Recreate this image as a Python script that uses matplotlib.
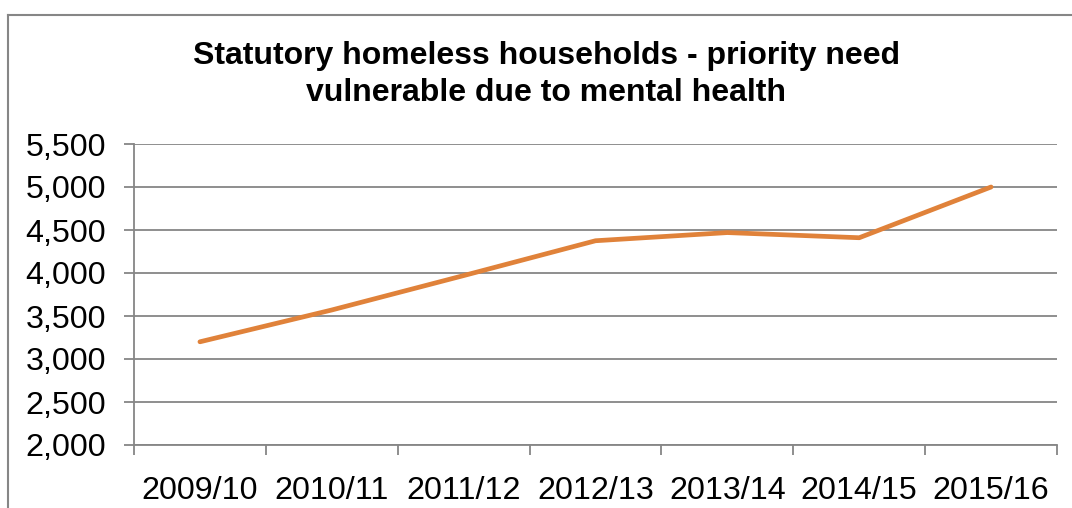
import matplotlib
matplotlib.use("Agg")
import matplotlib.pyplot as plt
from matplotlib.lines import Line2D
from matplotlib.ticker import FuncFormatter, FixedLocator

categories = ["2009/10", "2010/11", "2011/12", "2012/13", "2013/14", "2014/15", "2015/16"]
values = [3200, 3570, 3970, 4375, 4470, 4410, 5000]
title = "Statutory homeless households - priority need\nvulnerable due to mental health"

plt.rcParams['font.family'] = ['Liberation Sans', 'DejaVu Sans']

fig = plt.figure(figsize=(10.72, 5.08), dpi=100)
ax = fig.add_axes([134/1072, 1 - 445/508, (1057-134)/1072, (445-144)/508])

x = list(range(len(categories)))
ax.plot(x, values, color='#E0823A', lw=3.4, solid_capstyle='round', solid_joinstyle='round', zorder=3)

ax.set_xlim(-0.5, len(categories) - 0.5)
ax.set_ylim(2000, 5500)
ax.set_yticks(range(2000, 5501, 500))
ax.yaxis.set_major_formatter(FuncFormatter(lambda v, p: f"{int(v):,}"))
ax.grid(axis='y', color='#868686', lw=1.3, zorder=1)
ax.set_axisbelow(True)

ax.set_xticks(x)
ax.set_xticklabels(categories)
ax.xaxis.set_minor_locator(FixedLocator([i - 0.5 for i in range(len(categories) + 1)]))
ax.tick_params(axis='x', which='major', length=0, pad=22, labelsize=23.2)
ax.tick_params(axis='x', which='minor', length=7, width=1.3, color='#868686')
ax.tick_params(axis='y', which='major', length=7, width=1.3, color='#868686', pad=13, labelsize=23.2)

for s in ['top', 'right']:
    ax.spines[s].set_visible(False)
for s in ['left', 'bottom']:
    ax.spines[s].set_color('#868686')
    ax.spines[s].set_linewidth(1.3)

fig.text(546/1072, 1 - 74.5/508, title, ha='center', va='center', fontsize=23,
         fontweight='bold', linespacing=1.27)

# outer chart border (left and top visible)
fig.add_artist(Line2D([8/1072, 8/1072], [0, 1 - 15/508], transform=fig.transFigure, color='#868686', lw=1.5))
fig.add_artist(Line2D([8/1072, 1], [1 - 15/508, 1 - 15/508], transform=fig.transFigure, color='#868686', lw=1.5))

fig.savefig("out.png", dpi=100)
